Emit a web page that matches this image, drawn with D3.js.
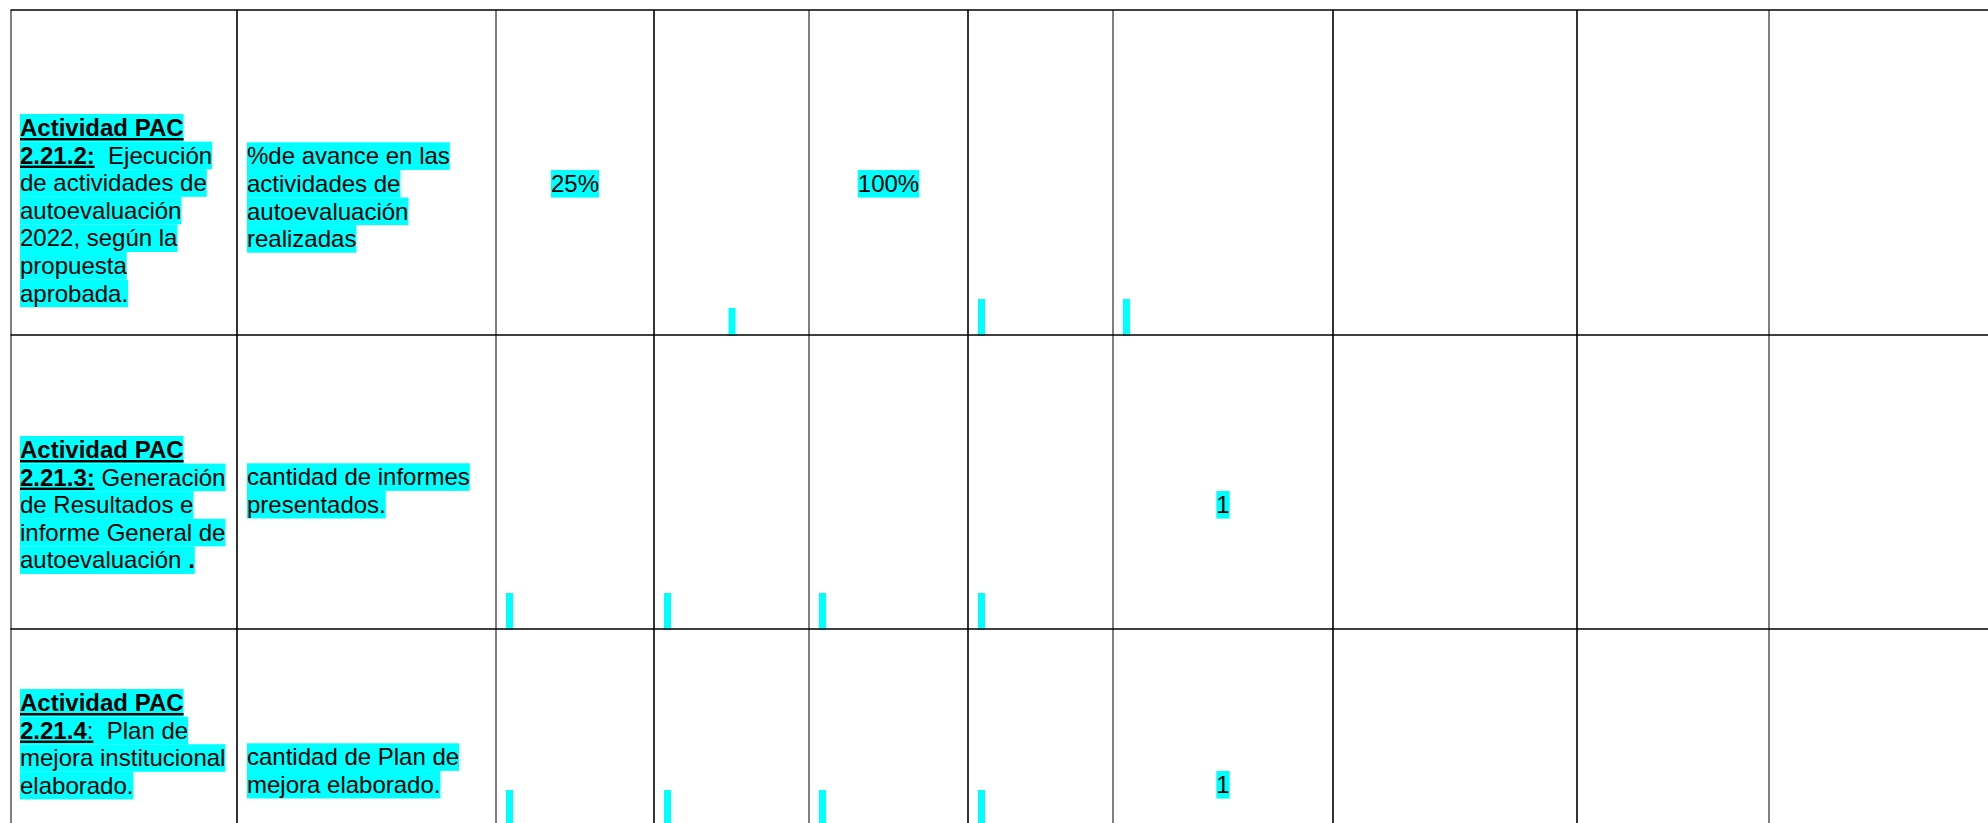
<!DOCTYPE html>
<html>
<head>
<meta charset="utf-8">
<script src="https://cdn.jsdelivr.net/npm/d3@7"></script>
<style>
  html, body { margin: 0; padding: 0; background: #fff; }
  svg { display: block; }
  text { font-family: "Liberation Sans", Arial, sans-serif; font-size: 24px; white-space: pre; }
</style>
</head>
<body>
<script>
// ---------- DATA ----------
// Column 1: activity descriptions (lines made of runs: b = bold, u = underline)
const activityLines = [
  [
    [{t: "Actividad PAC", b: 1, u: 1}],
    [{t: "2.21.2:", b: 1, u: 1}, {t: "  Ejecución"}],
    [{t: "de actividades de"}],
    [{t: "autoevaluación"}],
    [{t: "2022, según la"}],
    [{t: "propuesta"}],
    [{t: "aprobada."}]
  ],
  [
    [{t: "Actividad PAC", b: 1, u: 1}],
    [{t: "2.21.3:", b: 1, u: 1}, {t: " Generación"}],
    [{t: "de Resultados e"}],
    [{t: "informe General de"}],
    [{t: "autoevaluación "}, {t: ".", b: 1}]
  ],
  [
    [{t: "Actividad PAC", b: 1, u: 1}],
    [{t: "2.21.4", b: 1, u: 1}, {t: ":", u: 1}, {t: "  Plan de"}],
    [{t: "mejora institucional"}],
    [{t: "elaborado."}]
  ]
];
// Column 2: indicators
const indicatorLines = [
  ["%de avance en las", "actividades de", "autoevaluación", "realizadas"],
  ["cantidad de informes", "presentados."],
  ["cantidad de Plan de", "mejora elaborado."]
];
// Goal / value cells: [row, column, text]
const cellValues = [
  [0, 2, "25%"],
  [0, 4, "100%"],
  [1, 6, "1"],
  [2, 6, "1"]
];
// Empty highlighted paragraphs: [row, column, centered?]
const emptyMarks = [
  [0, 3, true], [0, 5, false], [0, 6, false],
  [1, 2, false], [1, 3, false], [1, 4, false], [1, 5, false],
  [2, 2, false], [2, 3, false], [2, 4, false], [2, 5, false]
];

// ---------- LAYOUT ----------
const W = 1988, H = 823;
const colEdges = [11, 237, 496, 654, 809, 968, 1113, 1333, 1577, 1769, 1990];
const thickCols = new Set([1, 3, 5, 7, 8]);
const rowEdges = [10, 335, 629, 900];
const lineH = 27.6;
const activityTop = [104, 101, 60];
const indicatorTop = [132.3, 128.3, 114.3];
const valueTop = [160, 156, 142];
const markTop = [[298, 289], [258], [161]]; // offsets (centered col uses first)
const HL = "#00ffff";

const svg = d3.select("body").append("svg").attr("width", W).attr("height", H);

// x position of column edges via scale
const xEdge = d3.scaleOrdinal().domain(d3.range(colEdges.length)).range(colEdges);
const yEdge = d3.scaleOrdinal().domain(d3.range(rowEdges.length)).range(rowEdges);

const gHL = svg.append("g");
const gText = svg.append("g");
const gGrid = svg.append("g");

function drawLine(x, top, runs, anchorMid) {
  const t = gText.append("text")
    .attr("x", x)
    .attr("y", top + 22)
    .attr("xml:space", "preserve");
  runs.forEach(r => {
    t.append("tspan")
      .text(r.t)
      .attr("font-weight", r.b ? "bold" : "normal")
      .style("text-decoration", r.u ? "underline" : "none");
  });
  const w = t.node().getComputedTextLength();
  let x0 = x;
  if (anchorMid) { x0 = x - w / 2; t.attr("x", x0); }
  gHL.append("rect")
    .attr("x", x0).attr("y", top)
    .attr("width", w).attr("height", lineH)
    .attr("fill", HL);
}

// Column 1
activityLines.forEach((lines, r) => {
  const top = yEdge(r) + activityTop[r];
  lines.forEach((runs, i) => drawLine(xEdge(0) + 9, top + i * lineH, runs, false));
});
// Column 2
indicatorLines.forEach((lines, r) => {
  const top = yEdge(r) + indicatorTop[r];
  lines.forEach((s, i) => drawLine(xEdge(1) + 10, top + i * lineH, [{t: s}], false));
});
// Value cells
cellValues.forEach(([r, c, s]) => {
  const cx = (xEdge(c) + xEdge(c + 1)) / 2;
  drawLine(cx, yEdge(r) + valueTop[r], [{t: s}], true);
});
// Empty highlighted paragraphs
emptyMarks.forEach(([r, c, centered]) => {
  const x = centered ? (xEdge(c) + xEdge(c + 1)) / 2 - 3 : xEdge(c) + 10;
  const y0 = yEdge(r) + (centered ? markTop[r][0] : (r === 0 ? markTop[0][1] : markTop[r][0]));
  const y1 = r + 1 < rowEdges.length - 1 ? yEdge(r + 1) : H;
  gHL.append("rect")
    .attr("x", x).attr("y", y0)
    .attr("width", 7).attr("height", Math.min(y1, H) - y0 + 1)
    .attr("fill", HL);
});

// Grid lines
colEdges.slice(0, -1).forEach((x, i) => {
  const sw = thickCols.has(i) ? 1.6 : 1;
  gGrid.append("line")
    .attr("x1", x).attr("x2", x)
    .attr("y1", rowEdges[0]).attr("y2", H)
    .attr("stroke", "#000").attr("stroke-width", sw);
});
rowEdges.slice(0, -1).forEach(y => {
  gGrid.append("line")
    .attr("x1", colEdges[0] - 0.5).attr("x2", W)
    .attr("y1", y).attr("y2", y)
    .attr("stroke", "#000").attr("stroke-width", 1.4);
});
</script>
</body>
</html>
